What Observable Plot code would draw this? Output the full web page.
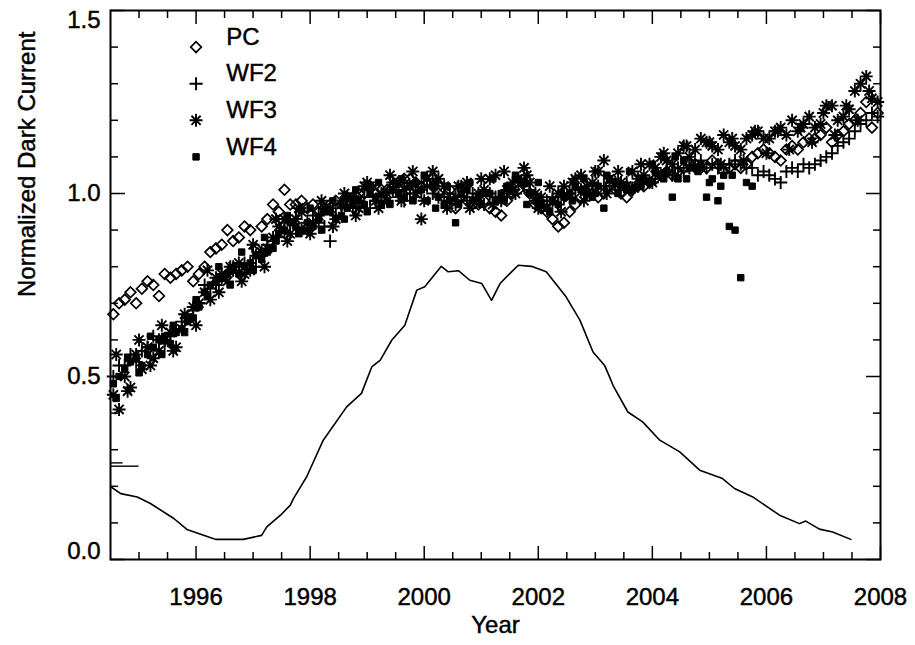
<!DOCTYPE html>
<html>
<head>
<meta charset="utf-8">
<script src="https://cdn.jsdelivr.net/npm/d3@7"></script>
<script src="https://cdn.jsdelivr.net/npm/@observablehq/plot@0.6"></script>
<style>
  html, body { margin: 0; padding: 0; background: #fff; }
  #chart svg { display: block; }
  #chart svg text { stroke: black; stroke-width: 0.45px; }
</style>
</head>
<body>
<div id="chart"></div>
<script>
// ---------------- data ----------------
// first set of readings
const years = [
  1994.55,1994.75,1994.95,1995.15,1995.35,1995.55,1995.75,1995.95,1996.15,1996.35,
  1996.55,1996.75,1996.95,1997.15,1997.35,1997.55,1997.75,1997.95,1998.15,1998.35,
  1998.55,1998.75,1998.95,1999.15,1999.35,1999.55,1999.75,1999.95,2000.15,2000.35,
  2000.55,2000.75,2000.95,2001.15,2001.35,2001.55,2001.75,2001.95,2002.15,2002.35,
  2002.55,2002.75,2002.95,2003.15,2003.35,2003.55,2003.75,2003.95,2004.15,2004.35,
  2004.55,2004.75,2004.95,2005.15,2005.35,2005.55,2005.75,2005.95,2006.15,2006.35,
  2006.55,2006.75,2006.95,2007.15,2007.35,2007.55,2007.75,2007.95
];
const pc = [
  0.67,0.71,0.70,0.76,0.72,0.77,0.79,0.76,0.80,0.85,
  0.90,0.88,0.90,0.91,0.97,1.01,0.97,0.96,0.95,0.97,
  0.97,0.99,1.00,1.00,1.01,1.03,1.04,1.02,1.02,0.99,
  0.96,0.98,0.97,0.96,0.94,1.00,1.03,0.97,0.95,0.91,
  0.95,0.99,1.00,1.00,1.01,0.99,1.02,1.03,1.05,1.05,
  1.07,1.08,1.07,1.08,1.07,1.07,1.10,1.12,1.10,1.12,
  1.12,1.15,1.16,1.14,1.17,1.20,1.25,1.22
];
const wf2 = [
  0.50,0.53,0.54,0.58,0.60,0.61,0.65,0.68,0.75,0.75,
  0.78,0.80,0.81,0.83,0.87,0.90,0.93,0.92,0.92,0.87,
  0.96,0.96,0.99,0.98,0.98,0.99,1.00,1.01,1.00,0.99,
  0.97,0.99,0.98,1.00,0.99,1.01,1.02,0.98,0.98,0.97,
  1.00,1.01,1.00,1.02,1.01,1.03,1.02,1.03,1.05,1.05,
  1.06,1.08,1.07,1.07,1.08,1.08,1.07,1.06,1.04,1.06,
  1.06,1.07,1.09,1.11,1.14,1.17,1.20,1.21
];
const wf3 = [
  0.45,0.50,0.56,0.58,0.57,0.62,0.63,0.69,0.73,0.77,
  0.76,0.81,0.79,0.84,0.88,0.93,0.93,0.90,0.94,0.96,
  0.97,0.99,1.02,0.98,1.00,1.03,1.02,0.93,1.06,1.02,
  0.99,1.03,1.00,1.04,0.98,1.03,1.07,1.00,0.96,1.00,
  0.99,1.05,1.03,1.09,1.03,1.02,1.04,1.08,1.10,1.08,
  1.13,1.12,1.14,1.12,1.14,1.12,1.16,1.15,1.17,1.16,
  1.17,1.21,1.19,1.24,1.21,1.28,1.32,1.25
];
const wf4 = [
  0.48,0.52,0.55,0.56,0.60,0.59,0.63,0.66,0.73,0.76,
  0.78,0.78,0.81,0.82,0.85,0.90,0.91,0.92,0.93,0.95,
  0.94,0.97,0.97,0.99,0.98,1.00,1.02,1.01,1.02,0.97,
  0.92,1.01,0.99,1.00,1.00,1.01,1.03,0.98,0.96,0.97,
  1.00,1.01,0.99,0.96,1.03,1.01,1.02,1.03,1.05,0.99,
  1.09,1.07,0.99,0.98,0.91,0.77,1.02,null,null,null,
  null,null,null,null,null,null,null,null
];

// second set of readings (in between)
const years2 = [
  1994.65,1994.85,1995.05,1995.25,1995.45,1995.65,1995.85,1996.05,1996.25,1996.45,
  1996.65,1996.85,1997.05,1997.25,1997.45,1997.65,1997.85,1998.05,1998.25,1998.45,
  1998.65,1998.85,1999.05,1999.25,1999.45,1999.65,1999.85,2000.05,2000.25,2000.45,
  2000.65,2000.85,2001.05,2001.25,2001.45,2001.65,2001.85,2002.05,2002.25,2002.45,
  2002.65,2002.85,2003.05,2003.25,2003.45,2003.65,2003.85,2004.05,2004.25,2004.45,
  2004.65,2004.85,2005.05,2005.25,2005.45,2005.65,2005.85,2006.05,2006.25,2006.45,
  2006.65,2006.85,2007.05,2007.25,2007.45,2007.65,2007.85
];
const pcB = [
  0.70,0.73,0.74,0.75,0.78,0.78,0.80,0.78,0.84,0.86,
  0.87,0.91,0.85,0.93,0.95,0.97,0.98,0.97,0.96,0.98,
  0.99,1.00,1.02,1.01,1.02,1.04,1.03,1.03,1.00,1.01,
  0.99,0.97,0.98,0.95,0.98,1.01,1.00,0.96,0.93,0.92,
  0.97,1.00,0.99,1.02,1.00,1.01,1.02,1.04,1.06,1.06,
  1.08,1.07,1.09,1.06,1.08,1.08,1.11,1.11,1.09,1.13,
  1.14,1.15,1.18,1.16,1.19,1.22,1.18
];
const wf2B = [
  0.53,0.56,0.57,0.61,0.59,0.63,0.66,0.70,0.74,0.77,
  0.79,0.81,0.80,0.86,0.88,0.92,0.90,0.94,0.91,0.94,
  0.97,0.98,0.96,0.99,1.01,0.98,0.99,1.02,0.99,1.00,
  0.98,1.00,0.97,0.99,1.00,1.03,1.01,0.97,0.99,0.99,
  1.01,1.00,1.02,1.02,1.03,1.01,1.04,1.04,1.06,1.07,
  1.07,1.09,1.08,1.07,1.09,1.07,1.05,1.05,1.03,1.07,
  1.08,1.08,1.10,1.13,1.15,1.19,1.22
];
const wf3B = [
  0.41,0.47,0.52,0.55,0.60,0.58,0.66,0.70,0.71,0.78,
  0.80,0.78,0.83,0.85,0.91,0.89,0.95,0.92,0.96,0.93,
  0.99,0.96,1.02,1.00,1.03,1.01,1.00,1.04,1.04,0.98,
  1.02,0.98,1.01,1.05,1.01,1.04,1.03,0.99,0.98,1.02,
  1.04,1.02,1.06,1.04,1.03,1.06,1.05,1.07,1.09,1.11,
  1.10,1.15,1.13,1.16,1.13,1.15,1.17,1.15,1.18,1.20,
  1.19,1.18,1.24,1.20,1.23,1.30,1.26
];
const wf4B = [
  0.50,0.54,0.53,0.58,0.61,0.62,0.65,0.69,0.75,0.77,
  0.79,0.80,0.83,0.84,0.89,0.92,0.90,0.91,0.95,0.93,
  0.96,0.98,1.00,0.97,1.01,0.99,1.03,0.98,0.99,0.98,
  1.00,0.98,1.00,0.98,1.02,1.04,1.00,0.97,0.98,0.99,
  1.02,1.00,1.02,1.04,1.02,1.01,1.04,1.06,1.06,1.04,
  1.07,1.08,1.04,1.05,0.90,1.03,null,null,null,null,
  null,null,null,null,null,null,null
];

// third set of readings (band edges, WF3 and WF4)
const years3 = [
  1994.60,1994.80,1995.00,1995.20,1995.40,1995.60,1995.80,1996.00,1996.20,1996.40,
  1996.60,1996.80,1997.00,1997.20,1997.40,1997.60,1997.80,1998.00,1998.20,1998.40,
  1998.60,1998.80,1999.00,1999.20,1999.40,1999.60,1999.80,2000.00,2000.20,2000.40,
  2000.60,2000.80,2001.00,2001.20,2001.40,2001.60,2001.80,2002.00,2002.20,2002.40,
  2002.60,2002.80,2003.00,2003.20,2003.40,2003.60,2003.80,2004.00,2004.20,2004.40,
  2004.60,2004.80,2005.00,2005.20,2005.40,2005.60,2005.80,2006.00,2006.20,2006.40,
  2006.60,2006.80,2007.00,2007.20,2007.40,2007.60,2007.80
];
const wf3C = [
  0.56,0.46,0.60,0.53,0.64,0.57,0.67,0.64,0.79,0.73,
  0.80,0.76,0.86,0.80,0.93,0.87,0.96,0.89,0.98,0.91,
  1.00,0.94,1.03,0.96,1.05,0.98,1.06,0.98,1.03,0.96,
  1.02,0.96,1.04,0.97,1.06,1.00,1.05,0.96,1.02,0.95,
  1.03,0.98,1.06,1.00,1.06,1.01,1.08,1.03,1.11,1.05,
  1.13,1.07,1.14,1.08,1.15,1.09,1.17,1.11,1.17,1.12,
  1.18,1.14,1.22,1.16,1.24,1.20,1.28
];
const wf4C = [
  0.44,0.55,0.51,0.61,0.56,0.64,0.62,0.71,0.72,0.80,
  0.75,0.84,0.79,0.88,0.87,0.94,0.89,0.96,0.90,0.98,
  0.93,1.01,0.95,1.03,0.97,1.04,0.98,1.05,0.96,1.02,
  0.97,1.03,0.97,1.04,0.98,1.05,0.97,1.03,0.95,1.00,
  0.98,1.04,1.00,1.05,1.00,1.06,1.02,1.08,1.04,1.10,
  1.04,1.06,1.03,1.02,1.05,null,null,null,null,null,
  null,null,null,null,null,null,null
];

// solar-activity style curve
const curveYear = [
  1994.51,1994.68,1994.97,1995.20,1995.61,1995.84,1996.31,1996.34,1996.83,1997.15,
  1997.24,1997.48,1997.65,1997.71,1997.94,1998.23,1998.64,1998.90,1999.08,1999.23,
  1999.43,1999.66,1999.87,2000.01,2000.30,2000.42,2000.60,2000.80,2001.01,2001.18,
  2001.33,2001.50,2001.65,2001.88,2002.14,2002.49,2002.73,2002.96,2003.16,2003.25,
  2003.31,2003.57,2003.83,2004.13,2004.48,2004.83,2005.23,2005.44,2005.76,2006.23,
  2006.58,2006.69,2006.93,2007.16,2007.48
];
const curveVal = [
  0.198,0.180,0.171,0.153,0.112,0.082,0.057,0.055,0.055,0.066,
  0.089,0.121,0.148,0.167,0.226,0.326,0.417,0.454,0.526,0.545,
  0.599,0.640,0.736,0.745,0.801,0.786,0.789,0.763,0.754,0.708,
  0.754,0.781,0.804,0.801,0.786,0.717,0.654,0.567,0.531,0.499,
  0.476,0.403,0.376,0.326,0.294,0.244,0.221,0.194,0.171,0.121,
  0.098,0.105,0.083,0.075,0.055
];

// short stray strokes near the left edge
const strayVal = [0.255, 0.264];
const strayStart = [1994.5, 1994.5];
const strayEnd = [1995.0, 1994.72];

// ticks
const xMajor = [1996, 1998, 2000, 2002, 2004, 2006, 2008];
const xMinor = [1995, 1995.5, 1996.5, 1997, 1997.5, 1998.5, 1999, 1999.5, 2000.5, 2001, 2001.5,
                2002.5, 2003, 2003.5, 2004.5, 2005, 2005.5, 2006.5, 2007, 2007.5];
const yMajor = [0, 0.5, 1.0, 1.5];
const yMinor = [0.1, 0.2, 0.3, 0.4, 0.6, 0.7, 0.8, 0.9, 1.1, 1.2, 1.3, 1.4];
const yLabelsMid = [0.5, 1.0];
const yLabelLow = [0.0];
const yLabelHigh = [1.5];

// legend
const legendLabels = ["PC", "WF2", "WF3", "WF4"];
const legendVal = [1.40, 1.30, 1.20, 1.10];
const legendSymYear = 1996.0;
const legendTextYear = 1996.53;

// ---------------- build ----------------
const toPts = (xs, vals) => xs.map((x, i) => ({x, y: vals[i]})).filter(d => d.y != null);

const asterisk8 = {
  draw(context, size) {
    const r = Math.sqrt(size / Math.PI);
    const d = r * Math.SQRT1_2;
    context.moveTo(-r, 0); context.lineTo(r, 0);
    context.moveTo(0, -r); context.lineTo(0, r);
    context.moveTo(-d, -d); context.lineTo(d, d);
    context.moveTo(-d, d); context.lineTo(d, -d);
  }
};

const styles = {
  PC:  {symbol: "diamond2", r: 4.8, fill: "none", stroke: "black", strokeWidth: 1.7},
  WF2: {symbol: "plus", r: 4.3, fill: "none", stroke: "black", strokeWidth: 1.9},
  WF3: {symbol: asterisk8, r: 6.5, fill: "none", stroke: "black", strokeWidth: 1.9},
  WF4: {symbol: "square", r: 3.6, fill: "black", stroke: "black", strokeWidth: 1}
};
const seriesData = {
  PC: toPts(years, pc).concat(toPts(years2, pcB)),
  WF2: toPts(years, wf2).concat(toPts(years2, wf2B)),
  WF3: toPts(years, wf3).concat(toPts(years2, wf3B), toPts(years3, wf3C)),
  WF4: toPts(years, wf4).concat(toPts(years2, wf4B), toPts(years3, wf4C))
};

const noText = () => "";
const tickStyle = {label: null, tickFormat: noText, strokeWidth: 1.5, stroke: "black"};

const chart = Plot.plot({
  width: 915,
  height: 645,
  marginLeft: 110,
  marginRight: 35,
  marginTop: 10,
  marginBottom: 86,
  style: {fontFamily: "'Liberation Sans', Arial, Helvetica, sans-serif", fontSize: "24px", background: "white", color: "black"},
  x: {domain: [1994.5, 2008]},
  y: {domain: [0, 1.5]},
  marks: [
    // ticks (inward) on all four sides
    Plot.axisX(xMajor, {anchor: "bottom", tickSize: -13, ...tickStyle}),
    Plot.axisX(xMinor, {anchor: "bottom", tickSize: -7, ...tickStyle}),
    Plot.axisX(xMajor, {anchor: "top", tickSize: -13, ...tickStyle}),
    Plot.axisX(xMinor, {anchor: "top", tickSize: -7, ...tickStyle}),
    Plot.axisY(yMajor, {anchor: "left", tickSize: -15, ...tickStyle}),
    Plot.axisY(yMinor, {anchor: "left", tickSize: -8, ...tickStyle}),
    Plot.axisY(yMajor, {anchor: "right", tickSize: -15, ...tickStyle}),
    Plot.axisY(yMinor, {anchor: "right", tickSize: -8, ...tickStyle}),
    // tick labels
    Plot.axisX(xMajor, {anchor: "bottom", tickSize: 0, tickPadding: 28, tickFormat: d => String(d), label: null, fontSize: 24, fill: "black"}),
    Plot.axisY(yLabelsMid, {anchor: "left", tickSize: 0, tickPadding: 10, tickFormat: d3.format(".1f"), label: null, fontSize: 24, fill: "black"}),
    Plot.axisY(yLabelLow, {anchor: "left", tickSize: 0, tickPadding: 10, tickFormat: d3.format(".1f"), label: null, fontSize: 24, fill: "black", dy: -8}),
    Plot.axisY(yLabelHigh, {anchor: "left", tickSize: 0, tickPadding: 10, tickFormat: d3.format(".1f"), label: null, fontSize: 24, fill: "black", dy: 10}),
    // axis titles
    Plot.text(["Year"], {text: d => d, frameAnchor: "bottom", dy: 73, fontSize: 24, fill: "black"}),
    Plot.text(["Normalized Dark Current"], {text: d => d, frameAnchor: "left", rotate: -90, dx: -83, dy: 12, fontSize: 24, fill: "black"}),
    // stray strokes
    Plot.ruleY(strayVal, {y: d => d, x1: (d, i) => strayStart[i], x2: (d, i) => strayEnd[i], stroke: "black", strokeWidth: 1.4}),
    // curve
    Plot.line(curveYear.map((x, i) => ({x, y: curveVal[i]})), {x: "x", y: "y", stroke: "black", strokeWidth: 1.6}),
    // scatter series
    Plot.dot(seriesData.PC, {x: "x", y: "y", ...styles.PC}),
    Plot.dot(seriesData.WF2, {x: "x", y: "y", ...styles.WF2}),
    Plot.dot(seriesData.WF3, {x: "x", y: "y", ...styles.WF3}),
    Plot.dot(seriesData.WF4, {x: "x", y: "y", ...styles.WF4}),
    // legend
    ...legendLabels.map((name, i) =>
      Plot.dot([legendVal[i]], {x: () => legendSymYear, y: d => d, ...styles[name]})
    ),
    Plot.text(legendLabels, {x: () => legendTextYear, y: (d, i) => legendVal[i], text: d => d, textAnchor: "start", dy: -10, fontSize: 24, fill: "black"}),
    // frame
    Plot.frame({stroke: "black", strokeWidth: 2})
  ]
});
document.getElementById("chart").appendChild(chart);
</script>
</body>
</html>
